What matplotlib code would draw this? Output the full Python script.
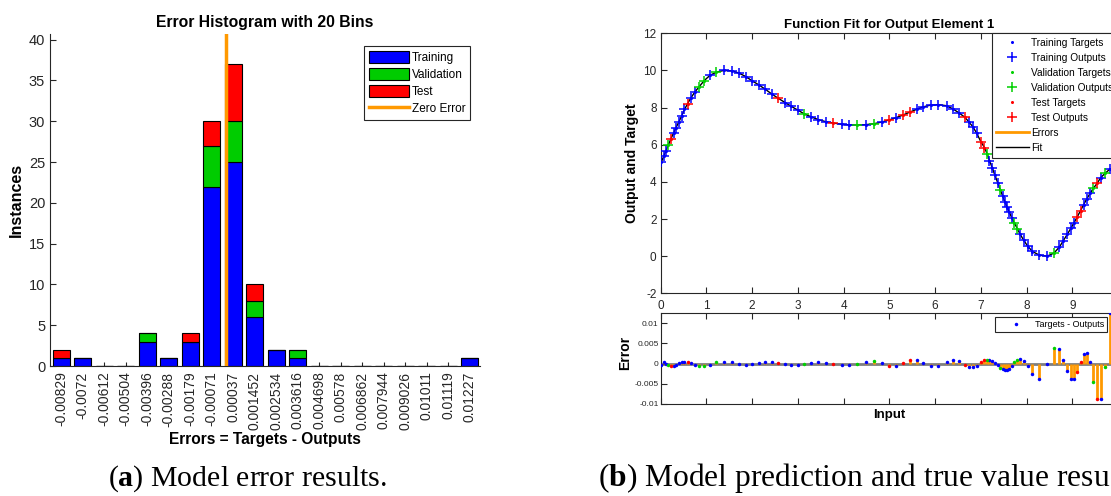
import numpy as np
import matplotlib
matplotlib.use("Agg")
import matplotlib.pyplot as plt
from matplotlib.patches import Patch
from matplotlib.lines import Line2D

plt.rcParams['font.family'] = ['Liberation Sans', 'DejaVu Sans']
plt.rcParams['axes.unicode_minus'] = False
plt.rcParams['mathtext.fontset'] = 'custom'
plt.rcParams['mathtext.rm'] = 'Liberation Serif'
plt.rcParams['mathtext.bf'] = 'Liberation Serif:bold'

# ---------------- Histogram data ----------------
bin_centers = [-0.00829, -0.0072, -0.00612, -0.00504, -0.00396, -0.00288, -0.00179, -0.00071,
               0.00037, 0.001452, 0.002534, 0.003616, 0.004698, 0.00578, 0.006862, 0.007944,
               0.009026, 0.01011, 0.01119, 0.01227]
bin_labels = ["-0.00829", "-0.0072", "-0.00612", "-0.00504", "-0.00396", "-0.00288", "-0.00179",
              "-0.00071", "0.00037", "0.001452", "0.002534", "0.003616", "0.004698", "0.00578",
              "0.006862", "0.007944", "0.009026", "0.01011", "0.01119", "0.01227"]
hist_train = [1, 1, 0, 0, 3, 1, 3, 22, 25, 6, 2, 1, 0, 0, 0, 0, 0, 0, 0, 1]
hist_val   = [0, 0, 0, 0, 1, 0, 0, 5, 5, 2, 0, 1, 0, 0, 0, 0, 0, 0, 0, 0]
hist_test  = [1, 0, 0, 0, 0, 0, 1, 3, 7, 2, 0, 0, 0, 0, 0, 0, 0, 0, 0, 0]

# ---------------- Function fit data ----------------
fit_x = [0.01, 0.07, 0.11, 0.17, 0.22, 0.28, 0.33, 0.40, 0.46, 0.52, 0.59, 0.66, 0.75, 0.84, 0.95,
         1.08, 1.22, 1.38, 1.55, 1.71, 1.86, 2.00, 2.16, 2.29, 2.43, 2.57, 2.72, 2.86, 3.00, 3.14,
         3.29, 3.45, 3.61, 3.77, 3.96, 4.12, 4.30, 4.48, 4.66, 4.83, 4.99, 5.15, 5.30, 5.45, 5.60,
         5.74, 5.90, 6.07, 6.25, 6.39, 6.52, 6.65, 6.74, 6.83, 6.91, 7.00, 7.08, 7.14, 7.19, 7.25,
         7.31, 7.37, 7.43, 7.48, 7.53, 7.58, 7.62, 7.68, 7.73, 7.80, 7.86, 7.94, 8.03, 8.13, 8.28,
         8.45, 8.60, 8.72, 8.80, 8.89, 8.97, 9.04, 9.11, 9.18, 9.25, 9.32, 9.39, 9.46, 9.55, 9.62,
         9.72, 9.82]
fit_target = [5.05, 5.40, 5.65, 6.00, 6.30, 6.62, 6.90, 7.24, 7.56, 7.90, 8.22, 8.52, 8.85, 9.12, 9.45,
              9.74, 9.91, 10.00, 9.98, 9.86, 9.67, 9.44, 9.20, 8.98, 8.73, 8.50, 8.27, 8.06, 7.86, 7.66,
              7.50, 7.35, 7.24, 7.17, 7.10, 7.07, 7.06, 7.08, 7.13, 7.22, 7.33, 7.46, 7.60, 7.76, 7.91,
              8.04, 8.13, 8.16, 8.10, 7.93, 7.72, 7.48, 7.23, 6.95, 6.62, 6.17, 5.85, 5.50, 5.15, 4.75,
              4.35, 3.95, 3.55, 3.22, 2.90, 2.62, 2.38, 2.05, 1.80, 1.48, 1.18, 0.85, 0.52, 0.25, 0.05,
              0.00, 0.17, 0.50, 0.82, 1.17, 1.50, 1.80, 2.12, 2.45, 2.78, 3.10, 3.38, 3.65, 3.93, 4.22,
              4.46, 4.70]
fit_error = [-0.0004, 0.0003, 0.0000, -0.0003, -0.0006, -0.0005, -0.0003, 0.0001, 0.0003, 0.0004,
             0.0003, 0.0001, -0.0003, -0.0005, -0.0006, -0.0003, 0.0003, 0.0005, 0.0003, -0.0001,
             -0.0003, -0.0002, 0.0001, 0.0003, 0.0004, 0.0002, -0.0001, -0.0003, -0.0003, -0.0001,
             0.0001, 0.0003, 0.0002, -0.0001, -0.0003, -0.0004, -0.0001, 0.0004, 0.0007, 0.0002,
             -0.0005, -0.0006, 0.0001, 0.0008, 0.0009, 0.0002, -0.0006, -0.0005, 0.0004, 0.0009,
             0.0006, -0.0003, -0.0008, -0.0008, -0.0006, 0.0004, 0.0008, 0.0010, 0.0009, 0.0006,
             0.0002, -0.0004, -0.0010, -0.0014, -0.0016, -0.0016, -0.0013, -0.0007, 0.0003, 0.0009,
             0.0012, 0.0007, -0.0006, -0.0025, -0.0038, 0.0000, 0.0038, 0.0036, 0.0008, -0.0019,
             -0.0037, -0.0037, -0.0020, 0.0004, 0.0025, 0.0027, 0.0003, -0.0045, -0.0088, -0.0088,
             -0.0008, 0.0125]
fit_set = ['T', 'T', 'T', 'V', 'S', 'T', 'T', 'T', 'T', 'T', 'S', 'T', 'T', 'V', 'V',
           'T', 'V', 'T', 'T', 'T', 'T', 'T', 'T', 'T', 'T', 'S', 'T', 'T', 'T', 'V',
           'T', 'T', 'T', 'S', 'T', 'T', 'V', 'T', 'V', 'T', 'S', 'T', 'S', 'S', 'T',
           'T', 'T', 'T', 'T', 'T', 'T', 'S', 'T', 'T', 'T', 'S', 'S', 'V', 'T', 'T',
           'T', 'T', 'V', 'T', 'T', 'T', 'T', 'T', 'V', 'V', 'T', 'T', 'T', 'T', 'T',
           'T', 'V', 'T', 'T', 'T', 'T', 'T', 'S', 'S', 'T', 'T', 'T', 'V', 'S', 'T',
           'V', 'T']

caption_a = r'($\mathbf{a}$) Model error results.'
caption_b = r'($\mathbf{b}$) Model prediction and true value resu'

set_names = {'T': 'Training', 'V': 'Validation', 'S': 'Test'}
fit_colors = {'T': '#0000FF', 'V': '#00D000', 'S': '#FF0000'}
ORANGE = '#FF9900'
AXC = '#262626'

W, H = 1111, 496
fig = plt.figure(figsize=(W / 100, H / 100), dpi=100)


def rect(l, t, r, b):
    return [l / W, 1 - b / H, (r - l) / W, (b - t) / H]


def style(ax):
    for s in ax.spines.values():
        s.set_color(AXC)
        s.set_linewidth(0.8)
    ax.tick_params(colors=AXC, direction='in', width=0.8)


# ================= (a) Error histogram =================
ax1 = fig.add_axes(rect(50, 34, 480, 366))
pos = np.arange(len(bin_centers))
tr = np.array(hist_train)
va = np.array(hist_val)
te = np.array(hist_test)
ax1.bar(pos, tr, width=0.8, color='#0000FF', edgecolor='k', lw=0.8, zorder=2)
ax1.bar(pos, va, width=0.8, bottom=tr, color='#00CC00', edgecolor='k', lw=0.8, zorder=2)
ax1.bar(pos, te, width=0.8, bottom=tr + va, color='#FF0000', edgecolor='k', lw=0.8, zorder=2)
zero_pos = np.interp(0.0, bin_centers, pos)
ax1.axvline(zero_pos, color=ORANGE, lw=2.5, zorder=3)
ax1.set_xlim(-0.52, len(pos) - 0.52)
ax1.set_ylim(0, 1.1 * (tr + va + te).max())
ax1.set_yticks(np.arange(0, 41, 5))
ax1.set_xticks(pos)
ax1.set_xticklabels(bin_labels, rotation=90, fontsize=10)
ax1.tick_params(axis='y', labelsize=10.5, pad=3.5, length=4)
ax1.tick_params(axis='x', pad=4, length=3)
style(ax1)
ax1.spines['top'].set_visible(False)
ax1.spines['right'].set_visible(False)
ax1.set_title('Error Histogram with 20 Bins', fontsize=11.3, fontweight='bold', pad=5)
ax1.set_ylabel('Instances', fontsize=11.5, fontweight='bold')
ax1.yaxis.set_label_coords(-0.06, 0.5)
ax1.set_xlabel('Errors = Targets - Outputs', fontsize=11.2, fontweight='bold', va='top')
ax1.xaxis.set_label_coords(0.5, -0.199)
h1 = [Patch(facecolor='#0000FF', edgecolor='k', lw=0.8),
      Patch(facecolor='#00CC00', edgecolor='k', lw=0.8),
      Patch(facecolor='#FF0000', edgecolor='k', lw=0.8),
      Line2D([], [], color=ORANGE, lw=2.5)]
leg1 = ax1.legend(h1, ['Training', 'Validation', 'Test', 'Zero Error'], loc='upper right',
                  bbox_to_anchor=(470 / W, 1 - 46 / H), bbox_transform=fig.transFigure,
                  fontsize=8.5, handlelength=3.4, handleheight=1.2, labelspacing=0.35,
                  handletextpad=0.2, borderpad=0.4, borderaxespad=0, fancybox=False,
                  framealpha=1, edgecolor=AXC)
leg1.get_frame().set_linewidth(0.8)

# ================= (b) Function fit =================
fx = np.array(fit_x)
ft = np.array(fit_target)
fe = np.array(fit_error)
fo = ft - fe
fs = np.array(fit_set)

ax2 = fig.add_axes(rect(660.7, 33.3, 1118, 293.3))
order = np.argsort(fx)
ax2.plot(fx[order], fo[order], color='k', lw=1, zorder=2)
ax2.vlines(fx, ft, fo, color=ORANGE, lw=2, zorder=2)
handles2, labels2 = [], []
for k in ['T', 'V', 'S']:
    m = fs == k
    c = fit_colors[k]
    l1, = ax2.plot(fx[m], ft[m], ls='none', marker='o', ms=2.2, mec='none', color=c, zorder=3)
    l2, = ax2.plot(fx[m], fo[m], ls='none', marker='+', ms=7.5, mew=1.1, color=c, zorder=4)
    handles2 += [l1, l2]
    labels2 += [set_names[k] + ' Targets', set_names[k] + ' Outputs']
handles2 += [Line2D([], [], color=ORANGE, lw=2), Line2D([], [], color='k', lw=1)]
labels2 += ['Errors', 'Fit']
ax2.set_xlim(0, 10)
ax2.set_ylim(-2, 12)
xt = np.arange(0, 11, 1)
ax2.set_xticks(xt)
ax2.set_xticklabels([str(v) if v < 10 else '' for v in xt])
ax2.set_yticks(np.arange(-2, 13, 2))
style(ax2)
ax2.tick_params(top=True, right=True, length=4, labelsize=8.5)
ax2.tick_params(axis='x', pad=5)
ax2.tick_params(axis='y', pad=3)
ax2.set_title('Function Fit for Output Element 1', fontsize=9.5, fontweight='bold', pad=3.6)
ax2.set_ylabel('Output and Target', fontsize=10, fontweight='bold')
ax2.yaxis.set_label_coords(-0.047, 0.5)
leg2 = ax2.legend(handles2, labels2, loc='upper left',
                  bbox_to_anchor=(991.7 / W, 1 - 33 / H), bbox_transform=fig.transFigure,
                  fontsize=7.3, handlelength=3.2, labelspacing=0.5, handletextpad=0.2,
                  borderpad=0.45, borderaxespad=0, fancybox=False, framealpha=1,
                  edgecolor=AXC, markerscale=1.0)
leg2.get_frame().set_linewidth(0.8)

# ---- error subplot ----
ax3 = fig.add_axes(rect(660.7, 312.7, 1118, 404))
ax3.axhline(0, color='#7F7F7F', lw=2, zorder=1)
ax3.vlines(fx, 0, fe, color=ORANGE, lw=2, zorder=2)
for k in ['T', 'V', 'S']:
    m = fs == k
    ax3.plot(fx[m], fe[m], ls='none', marker='o', ms=2.5, mec='none', color=fit_colors[k], zorder=3)
ax3.set_xlim(0, 10)
ax3.set_ylim(-0.01, 0.0126)
ax3.set_xticks(np.arange(0, 11, 1))
ax3.set_xticklabels([])
ax3.set_yticks([-0.01, -0.005, 0, 0.005, 0.01])
ax3.set_yticklabels(['-0.01', '-0.005', '0', '0.005', '0.01'])
style(ax3)
ax3.tick_params(top=True, right=True, length=4)
ax3.tick_params(axis='y', labelsize=6, pad=1.5)
ax3.set_ylabel('Error', fontsize=10, fontweight='bold')
ax3.yaxis.set_label_coords(-0.063, 0.56)
ax3.set_xlabel('Input', fontsize=9.5, fontweight='bold', va='top')
ax3.xaxis.set_label_coords(0.5, -0.055)
leg3 = ax3.legend([Line2D([], [], ls='none', marker='o', ms=2.5, mec='none', color='#0000FF')],
                  ['Targets - Outputs'], loc='upper left',
                  bbox_to_anchor=(995 / W, 1 - 316.7 / H), bbox_transform=fig.transFigure,
                  fontsize=6.5, handlelength=3.9, handletextpad=0.15, borderpad=0.35,
                  borderaxespad=0, fancybox=False, framealpha=1, edgecolor=AXC)
leg3.get_frame().set_linewidth(0.8)

# ================= captions =================
fig.text(108 / W, (H - 486) / H, caption_a,
         fontsize=21.5, family='Liberation Serif', va='baseline', ha='left')
fig.text(1110 / W, (H - 486) / H, caption_b,
         fontsize=22.7, family='Liberation Serif', va='baseline', ha='right')

fig.savefig('out.png', dpi=100)
